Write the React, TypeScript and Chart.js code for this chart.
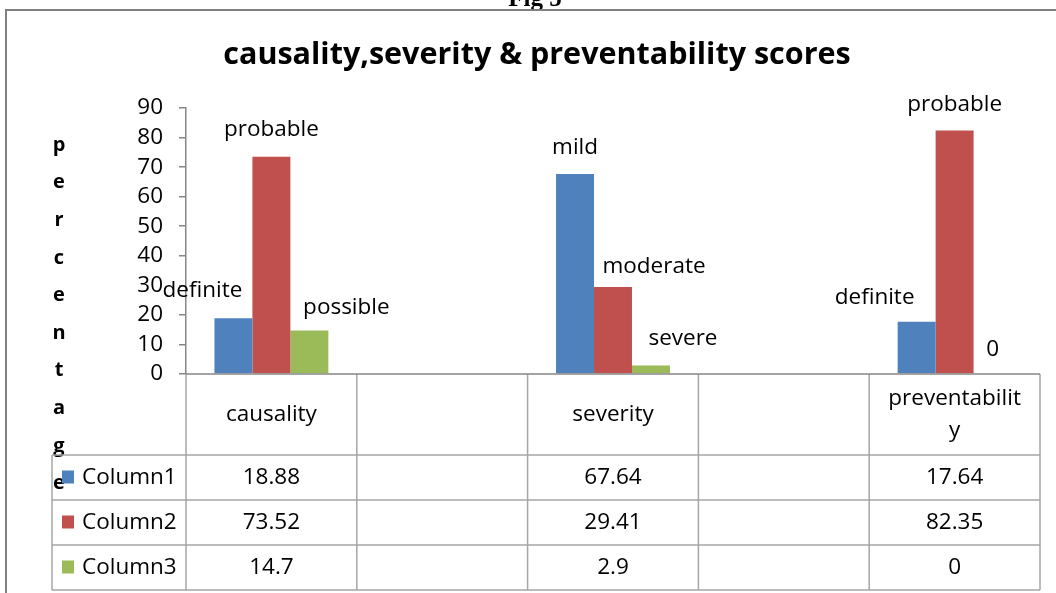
import React, { useEffect, useRef } from "react";
import { Chart, registerables } from "chart.js";

Chart.register(...registerables);

const categories = ["causality", "", "severity", "", "preventability"];
const categoryLines = [["causality"], [""], ["severity"], [""], ["preventabilit", "y"]];
const seriesNames = ["Column1", "Column2", "Column3"];
const column1 = [18.88, null, 67.64, null, 17.64];
const column2 = [73.52, null, 29.41, null, 82.35];
const column3 = [14.7, null, 2.9, null, 0];
const barLabels1 = ["definite", "", "mild", "", "definite"];
const barLabels2 = ["probable", "", "moderate", "", "probable"];
const barLabels3 = ["possible", "", "severe", "", "0"];
const yMin = 0;
const yMax = 90;
const yStep = 10;
const chartTitle = "causality,severity & preventability scores";
const axisTitle = "percentage";
const figCaption = "Fig 5";

const colors = ["#4F81BD", "#C0504D", "#9BBB59"];
// label offsets (dx, dy from bar top) per dataset per category
const labelOffsets = [
  [[-31, -28], null, [0, -26], null, [-42, -24]],
  [[0, -27], null, [41, -20], null, [0, -26]],
  [[37, -23], null, [32, -27], null, [0, -24]],
];

const FONT = "'Open Sans', 'Noto Sans', sans-serif";
const TEXT_SIZE = 22.5;

export default function App() {
  const ref = useRef<HTMLCanvasElement | null>(null);
  useEffect(() => {
    const canvas = ref.current!;
    const series = [column1, column2, column3];
    const labelSets = [barLabels1, barLabels2, barLabels3];

    const deco = {
      id: "deco",
      beforeDraw(chart: any) {
        const ctx = chart.ctx;
        ctx.save();
        ctx.fillStyle = "#ffffff";
        ctx.fillRect(0, 0, chart.width, chart.height);
        // caption
        ctx.fillStyle = "#000";
        ctx.font = "bold 25px 'Liberation Serif', serif";
        ctx.textAlign = "center";
        ctx.textBaseline = "alphabetic";
        ctx.fillText(figCaption, 535, 6);
        // outer border
        ctx.strokeStyle = "#7f7f7f";
        ctx.lineWidth = 2;
        ctx.strokeRect(6, 10, chart.width + 20, chart.height + 20);
        ctx.restore();
      },
      afterDraw(chart: any) {
        const ctx = chart.ctx;
        const area = chart.chartArea;
        const xs = chart.scales.x;
        const ys = chart.scales.y;
        ctx.save();
        // title
        ctx.fillStyle = "#000";
        ctx.font = `bold 30.5px ${FONT}`;
        ctx.textAlign = "center";
        ctx.textBaseline = "middle";
        ctx.fillText(chartTitle, 537, 55);
        // vertical axis title
        ctx.font = `bold 20px ${FONT}`;
        const letters = axisTitle.split("");
        letters.forEach((ch, i) => {
          ctx.fillText(ch, 59, 145 + i * 37.6);
        });
        // bar labels
        ctx.font = `${TEXT_SIZE}px ${FONT}`;
        series.forEach((vals, d) => {
          const meta = chart.getDatasetMeta(d);
          vals.forEach((v, i) => {
            const lab = labelSets[d][i];
            const off = labelOffsets[d][i];
            if (v === null || !lab || !off) return;
            const el = meta.data[i];
            ctx.fillText(lab, el.x + off[0], ys.getPixelForValue(v) + off[1]);
          });
        });
        // data table
        const half = (xs.getPixelForValue(1) - xs.getPixelForValue(0)) / 2;
        const top = area.bottom;
        const headerH = 81;
        const rowH = 45;
        const legendLeft = 52;
        const right = xs.getPixelForValue(categories.length - 1) + half;
        const bottom = top + headerH + rowH * seriesNames.length;
        ctx.strokeStyle = "#a6a6a6";
        ctx.lineWidth = 1.5;
        ctx.beginPath();
        for (let r = 0; r <= seriesNames.length; r++) {
          const y = top + headerH + r * rowH;
          ctx.moveTo(legendLeft, y);
          ctx.lineTo(right, y);
        }
        for (let i = 0; i <= categories.length; i++) {
          const x = xs.getPixelForValue(0) - half + i * 2 * half;
          ctx.moveTo(x, top);
          ctx.lineTo(x, bottom);
        }
        ctx.moveTo(legendLeft, top + headerH);
        ctx.lineTo(legendLeft, bottom);
        ctx.stroke();
        // x axis line
        ctx.strokeStyle = "#868686";
        ctx.lineWidth = 1.5;
        ctx.beginPath();
        ctx.moveTo(area.left, top);
        ctx.lineTo(right, top);
        ctx.stroke();

        ctx.fillStyle = "#000";
        ctx.font = `${TEXT_SIZE}px ${FONT}`;
        ctx.textAlign = "center";
        categoryLines.forEach((lines, i) => {
          const cx = xs.getPixelForValue(i);
          const cy = top + headerH / 2;
          const lh = 32;
          lines.forEach((ln, k) => {
            ctx.fillText(ln, cx, cy + (k - (lines.length - 1) / 2) * lh);
          });
        });
        series.forEach((vals, d) => {
          const cy = top + headerH + d * rowH + rowH / 2;
          vals.forEach((v, i) => {
            if (v === null) return;
            ctx.fillText(String(v), xs.getPixelForValue(i), cy);
          });
          ctx.fillStyle = colors[d];
          ctx.fillRect(62, cy - 7, 12, 13);
          ctx.fillStyle = "#000";
          ctx.textAlign = "left";
          ctx.fillText(seriesNames[d], 82, cy);
          ctx.textAlign = "center";
        });
        ctx.restore();
      },
    };

    const chart = new Chart(canvas, {
      type: "bar",
      data: {
        labels: categories,
        datasets: series.map((vals, d) => ({
          label: seriesNames[d],
          data: vals,
          backgroundColor: colors[d],
          borderWidth: 0,
          categoryPercentage: 0.667,
          barPercentage: 1,
        })),
      },
      options: {
        responsive: false,
        animation: false,
        devicePixelRatio: 1,
        layout: { padding: { left: 106, right: 16, top: 108, bottom: 219 } },
        plugins: {
          legend: { display: false },
          title: { display: false },
          tooltip: { enabled: false },
        },
        scales: {
          x: { display: false },
          y: {
            min: yMin,
            max: yMax,
            ticks: {
              stepSize: yStep,
              autoSkip: false,
              color: "#000",
              padding: 16,
              font: { family: FONT, size: 22.5 },
            },
            grid: {
              drawOnChartArea: false,
              drawTicks: true,
              tickLength: 7,
              color: "#868686",
              lineWidth: 1.5,
            },
            border: { display: true, color: "#868686", width: 1.5 },
            afterFit: (scale: any) => {
              scale.width = 80;
            },
          },
        },
      },
      plugins: [deco],
    });
    return () => chart.destroy();
  }, []);

  return (
    <div style={{ position: "fixed", left: 0, top: 0, width: 1056, height: 593 }}>
      <canvas ref={ref} width={1056} height={593} style={{ width: 1056, height: 593, display: "block" }} />
    </div>
  );
}
